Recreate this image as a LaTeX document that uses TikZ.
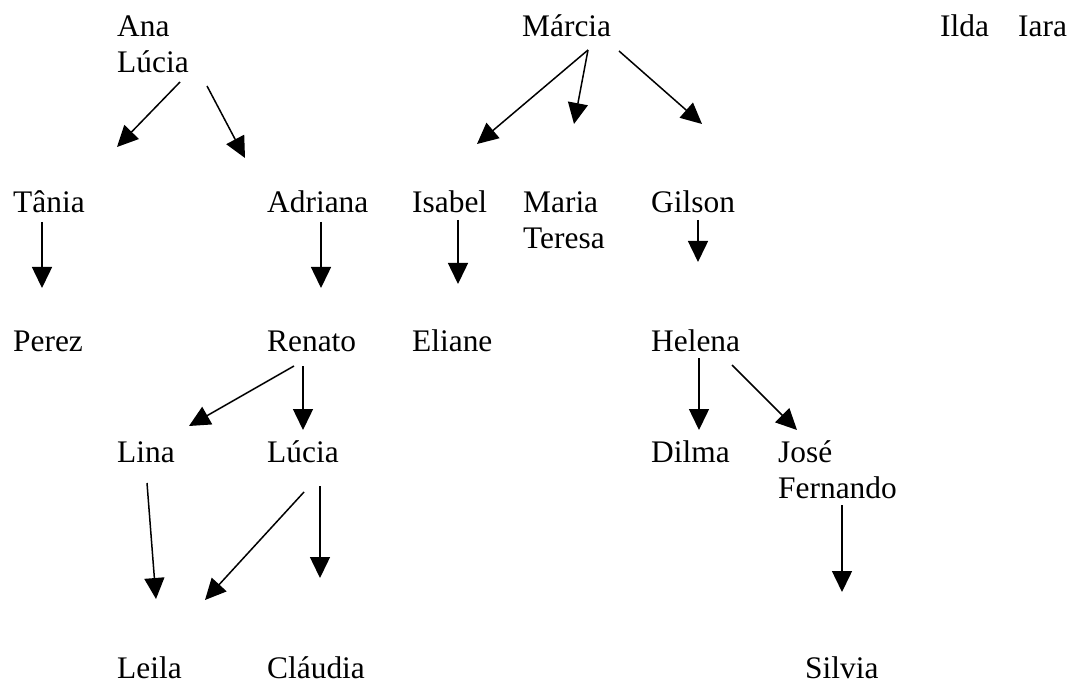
\documentclass[tikz,border=0pt]{standalone}
\usepackage{fontspec}
\setmainfont{Liberation Serif}
\usetikzlibrary{arrows.meta}
\begin{document}
\begin{tikzpicture}[x=1pt,y=-1pt,
  person/.style={anchor=base west,inner sep=0pt,align=left,font=\fontsize{31.4}{36}\selectfont},
  link/.style={line width=1.5pt,-{Triangle[length=21pt,width=20pt]}}]
\useasboundingbox (0,0) rectangle (1070,684);
% names (multi-line nodes are placed by the baseline of their last line)
\node[person] (analucia) at (117,73) {Ana\\Lúcia};
\node[person] (marcia) at (522,37) {Márcia};
\node[person] (ilda) at (940,37) {Ilda};
\node[person] (iara) at (1018,37) {Iara};
\node[person] (tania) at (13,213) {Tânia};
\node[person] (adriana) at (267,213) {Adriana};
\node[person] (isabel) at (412,213) {Isabel};
\node[person] (mariateresa) at (523,249) {Maria\\Teresa};
\node[person] (gilson) at (651,213) {Gilson};
\node[person] (perez) at (13,352) {Perez};
\node[person] (renato) at (267,352) {Renato};
\node[person] (eliane) at (412,352) {Eliane};
\node[person] (helena) at (651,352) {Helena};
\node[person] (lina) at (117,462) {Lina};
\node[person] (lucia) at (267,462) {Lúcia};
\node[person] (dilma) at (651,462) {Dilma};
\node[person] (josefernando) at (778,498) {José\\Fernando};
\node[person] (leila) at (117,678) {Leila};
\node[person] (claudia) at (267,678) {Cláudia};
\node[person] (silvia) at (805,678) {Silvia};
% connector end points
\coordinate (al1s) at (180,82);  \coordinate (al1e) at (117,147);
\coordinate (al2s) at (207,86);  \coordinate (al2e) at (245,158);
\coordinate (m1s) at (588,50);   \coordinate (m1e) at (477,144);
\coordinate (m2s) at (588,50);   \coordinate (m2e) at (574,124);
\coordinate (m3s) at (619,51);   \coordinate (m3e) at (702,124);
\coordinate (ts) at (42,222);    \coordinate (te) at (42,288);
\coordinate (ads) at (321,222);  \coordinate (ade) at (321,288);
\coordinate (iss) at (458,220);  \coordinate (ise) at (458,284);
\coordinate (gs) at (698,220);   \coordinate (ge) at (698,262);
\coordinate (r1s) at (294,366);  \coordinate (r1e) at (189,426);
\coordinate (r2s) at (303,366);  \coordinate (r2e) at (303,430);
\coordinate (lis) at (147,483);  \coordinate (lie) at (156,599);
\coordinate (lu1s) at (304,492); \coordinate (lu1e) at (205,600);
\coordinate (lu2s) at (320,486); \coordinate (lu2e) at (320,578);
\coordinate (h1s) at (699,358);  \coordinate (h1e) at (699,430);
\coordinate (h2s) at (732,365);  \coordinate (h2e) at (797,430);
\coordinate (jfs) at (842,505);  \coordinate (jfe) at (842,592);
% connectors
\draw[link] (al1s) -- (al1e);
\draw[link] (al2s) -- (al2e);
\draw[link] (m1s) -- (m1e);
\draw[link] (m2s) -- (m2e);
\draw[link] (m3s) -- (m3e);
\draw[link] (ts) -- (te);
\draw[link] (ads) -- (ade);
\draw[link] (iss) -- (ise);
\draw[link] (gs) -- (ge);
\draw[link] (r1s) -- (r1e);
\draw[link] (r2s) -- (r2e);
\draw[link] (lis) -- (lie);
\draw[link] (lu1s) -- (lu1e);
\draw[link] (lu2s) -- (lu2e);
\draw[link] (h1s) -- (h1e);
\draw[link] (h2s) -- (h2e);
\draw[link] (jfs) -- (jfe);
\end{tikzpicture}
\end{document}
